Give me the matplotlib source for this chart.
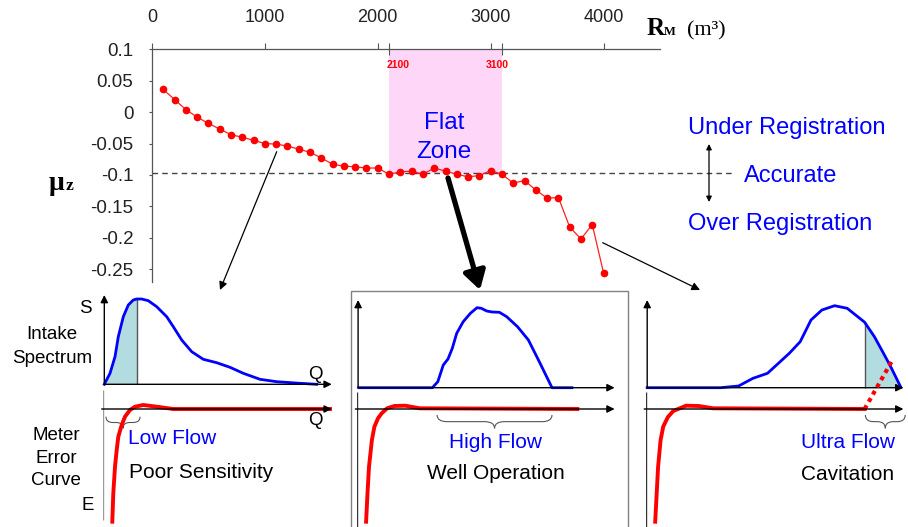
import numpy as np
import matplotlib.pyplot as plt
from matplotlib.path import Path
from matplotlib.patches import PathPatch, Rectangle

plt.rcParams['font.family'] = ['Liberation Sans', 'DejaVu Sans']

# main curve ===================================================================
rm_values = [100, 200, 300, 400, 500, 600, 700, 800, 900, 1000,
             1100, 1200, 1300, 1400, 1500, 1600, 1700, 1800, 1900, 2000,
             2100, 2200, 2300, 2400, 2500, 2600, 2700, 2800, 2900, 3000,
             3100, 3200, 3300, 3400, 3500, 3600, 3700, 3800, 3900, 4000]
mu_values = [0.036, 0.020, 0.004, -0.008, -0.018, -0.027, -0.036, -0.040, -0.045, -0.050,
             -0.051, -0.054, -0.059, -0.064, -0.073, -0.083, -0.086, -0.087, -0.089, -0.089,
             -0.099, -0.095, -0.094, -0.099, -0.089, -0.094, -0.099, -0.103, -0.101, -0.093,
             -0.099, -0.113, -0.109, -0.124, -0.137, -0.136, -0.183, -0.202, -0.179, -0.256]
accurate_level = -0.097
flat_zone = [2100, 3100]
x_ticks = [0, 1000, 2000, 3000, 4000]
y_ticks = [0.1, 0.05, 0, -0.05, -0.1, -0.15, -0.2, -0.25]
y_labels = ['0.1', '0.05', '0', '-0.05', '-0.1', '-0.15', '-0.2', '-0.25']

# panels: intake spectrum (Q, S) and meter error curve (Q, E) ===================
spec1_q = [0, 5.7, 10.7, 14, 19, 24, 29, 32.4, 37.4, 44, 52.4, 62.4, 69, 77.4, 87.4,
           99, 112.4, 125.7, 139, 155.7, 172.4, 195.7, 212.4]
spec1_s = [0, 11, 27.6, 47.6, 67.6, 79.3, 84.3, 85.3, 85.3, 83.6, 77.6, 67.6, 57.6, 44.3, 32.6,
           25, 21.6, 17, 11, 5, 2.6, 1, 0]
spec1_edge = 32.4

spec2_q = [0.7, 74.3, 79.7, 85.2, 89.9, 94.2, 98.6, 105.1, 112.3, 118.9, 123.2, 128.6,
           134.1, 141.3, 148.6, 159.4, 170.3, 181.2, 193.9, 213.8]
spec2_s = [0, 0, 6, 22.7, 28.7, 39.4, 54.4, 66, 74.4, 80, 79.4, 76.7,
           75.7, 75.4, 71, 61, 47.7, 26, 0, 0]

spec3_q = [0, 73.2, 91.4, 105.8, 120.3, 131.2, 142.1, 153, 163.8, 174.7, 187.4, 200,
           217.4, 227.2, 236.3, 243.5, 253.7]
spec3_s = [0, 0, 1.7, 9.4, 14.4, 24.4, 34.4, 46, 67.7, 77.7, 82, 79.4,
           65.5, 51, 34.4, 21, 0.3]
spec3_edge = 217.4

err1_q = [9, 10, 11.7, 13.4, 15, 18.4, 21.7, 26.7, 31.7, 40, 53.4, 70, 226.7]
err1_e = [-112.7, -84.3, -57.7, -41, -27.7, -16, -7.7, -1, 2.3, 4, 2.3, 0, 0]
err2_q = [8.7, 10.1, 11.6, 14.5, 17, 20.6, 24.3, 29.7, 36.9, 47.8, 62.3, 219.9]
err2_e = [-112.7, -84.3, -57.7, -31, -17.7, -9.3, -4.3, 0.7, 3, 3.3, 0.7, 0]
err3_q = [9, 10.5, 11.9, 14.4, 17, 21.7, 27.1, 39.8, 52.5, 67, 218.4]
err3_e = [-112.7, -84.3, -57.7, -31, -17.7, -8, -2, 3.3, 3, 0.7, 0]
cav_q = [218.4, 246.3]
cav_e = [0, 49]

W, H = 908, 527
fig = plt.figure(figsize=(W / 100, H / 100), dpi=100)


def box(left, top, right, bottom):
    return [left / W, 1 - bottom / H, (right - left) / W, (bottom - top) / H]


# main chart ===================================================================
ax = fig.add_axes(box(152, 49.3, 660, 281.7))
ax.set_xlim(0, 4500)
ax.set_ylim(-0.270, 0.1)
ax.fill_between(flat_zone, accurate_level, 0.1, color='#fdd6f8', lw=0, zorder=0)
ax.plot([0, 5150], [accurate_level] * 2, color='#444444', lw=1, dashes=(4, 3),
        clip_on=False, zorder=1)
ax.plot(rm_values, mu_values, color='#ff2020', lw=0.9, marker='o', ms=4.5,
        mfc='red', mec='red', zorder=3)
ax.xaxis.tick_top()
ax.set_xticks(x_ticks)
ax.set_xticks(flat_zone, minor=True)
ax.set_yticks(y_ticks)
ax.set_yticklabels(y_labels)
ax.tick_params(axis='x', which='major', direction='out', length=4.5, width=0.8,
               color='#555555', labelsize=13, pad=12, labelcolor='#222222')
ax.tick_params(axis='x', which='minor', direction='inout', length=8, width=0.8,
               color='#555555')
ax.tick_params(axis='y', direction='out', length=2.5, width=0.8, color='#555555',
               labelsize=13.5, pad=11, labelcolor='#222222')
for side in ['right', 'bottom']:
    ax.spines[side].set_visible(False)
for side in ['left', 'top']:
    ax.spines[side].set_color('#555555')
    ax.spines[side].set_linewidth(0.9)


# panels =======================================================================
def panel_axes(x0, y0, right, up, down):
    a = fig.add_axes(box(x0, y0 - up, x0 + right, y0 + down))
    a.set_xlim(0, right)
    a.set_ylim(-down, up)
    a.axis('off')
    return a


def axis_arrow(a, start, end, color='black'):
    a.annotate('', xy=end, xytext=start, annotation_clip=False,
               arrowprops=dict(arrowstyle='-|>', color=color, lw=1, shrinkA=0,
                               shrinkB=0, mutation_scale=11))


def brace(a, x1, x2, top, depth):
    h = depth / 2
    xm = (x1 + x2) / 2
    q = min(h * 1.5, (x2 - x1) / 5)
    verts = [(x1, top), (x1, top - h), (x1 + q, top - h), (xm - q, top - h),
             (xm, top - h), (xm, top - depth), (xm, top - h), (xm + q, top - h),
             (x2 - q, top - h), (x2, top - h), (x2, top)]
    codes = [Path.MOVETO, Path.CURVE3, Path.CURVE3, Path.LINETO,
             Path.CURVE3, Path.CURVE3, Path.CURVE3, Path.CURVE3,
             Path.LINETO, Path.CURVE3, Path.CURVE3]
    a.add_patch(PathPatch(Path(verts, codes), fill=False, ec='#555555', lw=0.8,
                          clip_on=False))


shade = '#b2dcdf'

# panel 1
s1 = panel_axes(104.3, 384.3, 230, 92, 3)
q = np.array(spec1_q)
s = np.array(spec1_s)
s1.fill_between(q, s, where=q <= spec1_edge, color=shade, lw=0)
s1.vlines(spec1_edge, 0, s[q == spec1_edge][0], color='#555555', lw=1)
axis_arrow(s1, (0, 0), (0, 89.3))
axis_arrow(s1, (0, 0), (227.4, 0))
s1.plot(spec1_q, spec1_s, color='blue', lw=2, solid_joinstyle='round', clip_on=False)

e1 = panel_axes(103.3, 409, 230, 20, 115)
e1.vlines(0, -111, 19, color='#999999', lw=1)
axis_arrow(e1, (-1.6, 0), (228.4, 0))
e1.plot(err1_q, err1_e, color='red', lw=2.8, solid_joinstyle='round', clip_on=False)
brace(e1, 2.7, 36.7, -7.7, 11.6)

# panel 2
s2 = panel_axes(358.1, 387.7, 258, 90, 3)
axis_arrow(s2, (0, 0), (0, 87.7))
axis_arrow(s2, (0, 0), (256.5, 0))
s2.plot(spec2_q, spec2_s, color='blue', lw=2, solid_joinstyle='round', clip_on=False)

e2 = panel_axes(357.4, 409, 258, 20, 120)
e2.vlines(0, -120, 17.3, color='#333333', lw=1)
axis_arrow(e2, (-2, 0), (257.2, 0))
e2.plot(err2_q, err2_e, color='red', lw=2.8, solid_joinstyle='round', clip_on=False)
brace(e2, 79.7, 194.6, -6, 13.3)

# panel 3
s3 = panel_axes(647.2, 387.7, 258, 90, 3)
q = np.array(spec3_q)
s = np.array(spec3_s)
s3.fill_between(q, s, where=q >= spec3_edge, color=shade, lw=0)
s3.vlines(spec3_edge, 0, s[q == spec3_edge][0], color='#555555', lw=1)
axis_arrow(s3, (0, 0), (0, 87.7))
axis_arrow(s3, (0, 0), (256.2, 0))
s3.plot(spec3_q, spec3_s, color='blue', lw=2, solid_joinstyle='round', clip_on=False)

e3 = panel_axes(646.2, 409, 258, 52, 120)
e3.vlines(0, -120, 17.3, color='#333333', lw=1)
axis_arrow(e3, (-2, 0), (257.2, 0))
e3.plot(err3_q, err3_e, color='red', lw=2.8, solid_joinstyle='round', clip_on=False)
e3.plot(cav_q, cav_e, color='red', lw=3, linestyle=(0, (1, 1)), clip_on=False)
brace(e3, 219.2, 259, -6, 13.3)

# overlay for texts and arrows (pixel coordinates) ==============================
ov = fig.add_axes([0, 0, 1, 1], zorder=10)
ov.set_xlim(0, W)
ov.set_ylim(H, 0)
ov.axis('off')

ov.add_patch(Rectangle((350.7, 290.7), 628 - 350.7, 260, fill=False, ec='#808080', lw=1))

ov.text(398, 68.5, '2100', color='red', fontsize=7.5, weight='bold', ha='center', va='baseline')
ov.text(497, 68.5, '3100', color='red', fontsize=7.5, weight='bold', ha='center', va='baseline')
ov.text(444, 129.3, 'Flat', color='blue', fontsize=17.5, ha='center', va='baseline')
ov.text(444, 158.3, 'Zone', color='blue', fontsize=17.5, ha='center', va='baseline')

ov.text(688, 134, 'Under Registration', color='blue', fontsize=17, va='baseline')
ov.text(744, 181.7, 'Accurate', color='blue', fontsize=17, va='baseline')
ov.text(688, 230, 'Over Registration', color='blue', fontsize=17, va='baseline')
ov.annotate('', xy=(709, 144), xytext=(709, 202),
            arrowprops=dict(arrowstyle='<|-|>', color='black', lw=0.9, shrinkA=0,
                            shrinkB=0, mutation_scale=8))

serif = ['Liberation Serif', 'DejaVu Serif']
ov.text(646.7, 35, 'R', family=serif, weight='bold', fontsize=18, va='baseline')
ov.text(663.3, 35, 'M', family=serif, weight='bold', fontsize=9, va='baseline')
ov.text(687.3, 35, '(m³)', family=serif, fontsize=16, va='baseline')
ov.text(49, 190, 'μ', family=serif, weight='bold', fontsize=20, va='baseline')
ov.text(66, 190, 'z', family=serif, weight='bold', fontsize=12.5, va='baseline')

# arrows from the chart to the panels
ov.annotate('', xy=(220, 290), xytext=(276.7, 151.7),
            arrowprops=dict(arrowstyle='-|>', color='black', lw=0.9, shrinkA=0,
                            shrinkB=0, mutation_scale=12))
ov.annotate('', xy=(480, 290), xytext=(448, 178),
            arrowprops=dict(arrowstyle='-|>,head_length=0.5,head_width=0.3',
                            color='black', lw=3.8, shrinkA=0, shrinkB=0,
                            mutation_scale=22))
ov.annotate('', xy=(700, 290), xytext=(602.7, 242.7),
            arrowprops=dict(arrowstyle='-|>', color='black', lw=0.9, shrinkA=0,
                            shrinkB=0, mutation_scale=12))

# panel labels
lab = 13.5
ov.text(85.7, 313.3, 'S', fontsize=lab, ha='center', va='baseline')
ov.text(315, 378.7, 'Q', fontsize=lab, ha='center', va='baseline')
ov.text(315, 425.3, 'Q', fontsize=lab, ha='center', va='baseline')
ov.text(87.3, 510, 'E', fontsize=lab, ha='center', va='baseline')
ov.text(51.7, 339.3, 'Intake', fontsize=lab, ha='center', va='baseline')
ov.text(52, 362.7, 'Spectrum', fontsize=lab, ha='center', va='baseline')
ov.text(56.3, 440, 'Meter', fontsize=lab, ha='center', va='baseline')
ov.text(56.3, 462.7, 'Error', fontsize=lab, ha='center', va='baseline')
ov.text(55.8, 485, 'Curve', fontsize=lab, ha='center', va='baseline')

ov.text(128.3, 444.3, 'Low Flow', color='blue', fontsize=15, va='baseline')
ov.text(129.3, 477.7, 'Poor Sensitivity', fontsize=15, va='baseline')
ov.text(495.8, 448.3, 'High Flow', color='blue', fontsize=15, ha='center', va='baseline')
ov.text(495.8, 479.3, 'Well Operation', fontsize=15, ha='center', va='baseline')
ov.text(847.6, 448.3, 'Ultra Flow', color='blue', fontsize=15, ha='center', va='baseline')
ov.text(847.6, 480, 'Cavitation', fontsize=15, ha='center', va='baseline')

fig.savefig('out.png', dpi=100)
